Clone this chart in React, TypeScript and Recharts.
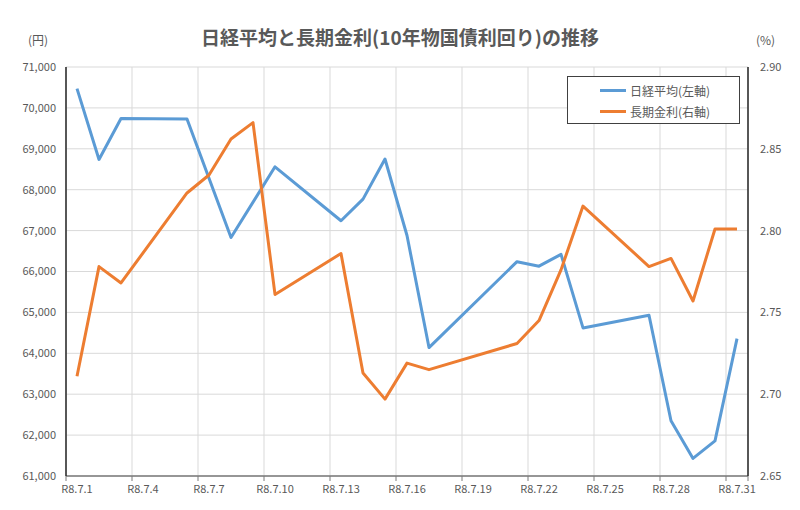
import { LineChart, Line, XAxis, YAxis, CartesianGrid, Legend } from 'recharts';

// trading days of R8.7 (day of month)
const days = [1, 2, 3, 6, 7, 8, 9, 10, 13, 14, 15, 16, 17, 21, 22, 23, 24, 27, 28, 29, 30, 31];
// 日経平均 (円) - null where the line shows no visible point
const nikkei = [
  70470, 68740, 69740, 69730, null, 66830, null, 68560, 67240, 67770, 68750, 66880, 64140,
  66240, 66130, 66420, 64620, 64930, 62350, 61430, 61860, 64360,
];
// 長期金利 (%)
const yields = [
  2.711, 2.778, 2.768, 2.823, 2.834, 2.856, 2.866, 2.761, 2.786, 2.713, 2.697, 2.719, 2.715,
  2.731, 2.745, 2.776, 2.815, 2.778, 2.783, 2.757, 2.801, 2.801,
];

const dayTicks = [1, 4, 7, 10, 13, 16, 19, 22, 25, 28, 31];
const yenTicks = [61000, 62000, 63000, 64000, 65000, 66000, 67000, 68000, 69000, 70000, 71000];
const rateTicks = [2.65, 2.7, 2.75, 2.8, 2.85, 2.9];

const nikkeiName = '日経平均(左軸)';
const rateName = '長期金利(右軸)';

const data = days.map((day, i) => ({ day, nikkei: nikkei[i], rate: yields[i] }));
// grid lines sit between the day bands
const gridTicks = [...dayTicks.map((d) => d - 0.5), 31.5];
const dayDomain = [0.5, 31.5];

const FONT = '"Noto Sans CJK JP", "Noto Sans", sans-serif';
const tickStyle = { fill: '#595959', fontSize: 11, fontFamily: FONT };

const LegendBox = ({ payload }: any) => (
  <div
    style={{
      border: '1px solid #404040',
      background: '#fff',
      width: 173,
      height: 48,
      boxSizing: 'border-box',
      padding: '3px 0 0 32px',
    }}
  >
    {(payload || []).map((entry: any) => (
      <div key={entry.value} style={{ display: 'flex', alignItems: 'center', height: 21 }}>
        <span style={{ width: 26, height: 3, background: entry.color, marginRight: 4 }} />
        <span style={{ fontSize: 12, color: '#595959', fontFamily: FONT }}>{entry.value}</span>
      </div>
    ))}
  </div>
);

const App = () => {
  return (
    <div
      style={{
        position: 'absolute',
        left: 0,
        top: 0,
        width: 800,
        height: 510,
        background: '#fff',
        fontFamily: FONT,
      }}
    >
      <div
        style={{
          position: 'absolute',
          top: 23,
          left: 0,
          width: 800,
          textAlign: 'center',
          fontSize: 19,
          fontWeight: 'bold',
          color: '#595959',
        }}
      >
        日経平均と長期金利(10年物国債利回り)の推移
      </div>
      <div style={{ position: 'absolute', top: 31, left: 28, fontSize: 12, color: '#595959' }}>(円)</div>
      <div style={{ position: 'absolute', top: 31, left: 756, fontSize: 12, color: '#595959' }}>(%)</div>

      <LineChart width={800} height={510} data={data} margin={{ top: 67, right: 0, bottom: 0, left: 0 }}>
        <CartesianGrid xAxisId="axisA" yAxisId="left" stroke="#d9d9d9" />
        <XAxis
          xAxisId="axisA"
          type="number"
          dataKey="day"
          domain={dayDomain}
          ticks={gridTicks}
          tickFormatter={() => ''}
          tickSize={5}
          height={5}
          axisLine={{ stroke: '#7a7a7a', strokeWidth: 1.5 }}
          tickLine={{ stroke: '#7a7a7a' }}
        />
        <XAxis
          xAxisId="axisB"
          type="number"
          dataKey="day"
          domain={dayDomain}
          ticks={dayTicks}
          tickFormatter={(d) => `R8.7.${d}`}
          height={29}
          axisLine={false}
          tickLine={false}
          tickSize={0}
          tickMargin={4}
          tick={tickStyle}
        />
        <XAxis
          xAxisId="top"
          orientation="top"
          type="number"
          dataKey="day"
          domain={dayDomain}
          tick={false}
          tickLine={false}
          height={0}
          axisLine={{ stroke: '#262626', strokeWidth: 1.5 }}
        />
        <YAxis
          yAxisId="left"
          domain={[61000, 71000]}
          ticks={yenTicks}
          tickFormatter={(v) => v.toLocaleString('en-US')}
          width={66}
          axisLine={{ stroke: '#262626', strokeWidth: 1.5 }}
          tickLine={false}
          tickMargin={4}
          tick={tickStyle}
        />
        <YAxis
          yAxisId="right"
          orientation="right"
          domain={[2.65, 2.9]}
          ticks={rateTicks}
          tickFormatter={(v) => v.toFixed(2)}
          width={52}
          axisLine={{ stroke: '#262626', strokeWidth: 1.5 }}
          tickLine={false}
          tickMargin={6}
          tick={tickStyle}
        />
        <Legend
          layout="vertical"
          align="center"
          verticalAlign="middle"
          wrapperStyle={{ position: 'absolute', left: 567, top: 76, width: 'auto' }}
          content={<LegendBox />}
        />
        <Line
          xAxisId="axisB"
          yAxisId="left"
          type="linear"
          dataKey="nikkei"
          name={nikkeiName}
          stroke="#5b9bd5"
          strokeWidth={3}
          strokeLinejoin="round"
          dot={false}
          connectNulls
          isAnimationActive={false}
        />
        <Line
          xAxisId="axisB"
          yAxisId="right"
          type="linear"
          dataKey="rate"
          name={rateName}
          stroke="#ed7d31"
          strokeWidth={3}
          strokeLinejoin="round"
          dot={false}
          connectNulls
          isAnimationActive={false}
        />
      </LineChart>
    </div>
  );
};

export default App;
